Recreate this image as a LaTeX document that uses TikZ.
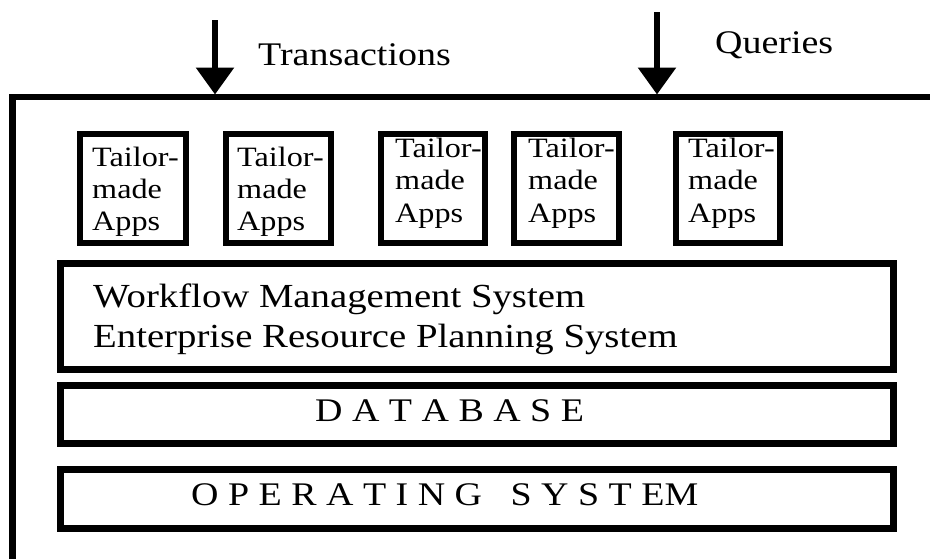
\documentclass[tikz,border=0pt]{standalone}
\usepackage{fontspec}
\setmainfont{Liberation Serif}[FakeStretch=1.15]
\usetikzlibrary{arrows.meta}
\begin{document}
\begin{tikzpicture}[x=1pt,y=-1pt,
  appbox/.style={draw,line width=6pt,inner sep=0pt,outer sep=0pt,minimum height=109pt},
  layerbox/.style={draw,line width=7pt,inner sep=0pt,outer sep=0pt,minimum width=833pt},
  apptext/.style={anchor=base west,inner sep=0pt,font=\fontsize{28}{32}\selectfont},
  bigtext/.style={anchor=base west,inner sep=0pt,font=\fontsize{33}{40}\selectfont},
  wftext/.style={anchor=base west,inner sep=0pt,font=\fontsize{33.7}{40}\selectfont},
  frameline/.style={line width=6.5pt},
  flow/.style={line width=6pt,-{Triangle[length=27pt,width=37pt]}}]
\useasboundingbox (0,0) rectangle (930,558);
% outer frame
\coordinate (fb) at (12.5,562);
\coordinate (fc) at (12.5,97);
\coordinate (fr) at (934,97);
\draw[frameline] (fb) -- (fc) -- (fr);
% input arrows
\coordinate (t0) at (215,20);
\coordinate (t1) at (215,94.5);
\coordinate (q0) at (657,12);
\coordinate (q1) at (657,94.5);
\draw[flow] (t0) -- (t1);
\draw[flow] (q0) -- (q1);
\node[bigtext] (trans) at (258,65) {Transactions};
\node[bigtext] (quer) at (715,53) {Queries};
% application boxes
\node[appbox,minimum width=106pt] (a1) at (133,188.5) {};
\node[appbox,minimum width=105pt] (a2) at (278.5,188.5) {};
\node[appbox,minimum width=104pt] (a3) at (433,188.5) {};
\node[appbox,minimum width=105pt] (a4) at (566.5,188.5) {};
\node[appbox,minimum width=104pt] (a5) at (728,188.5) {};
\node[apptext] (a1l1) at (92,166) {Tailor-};
\node[apptext] (a1l2) at (92,198) {made};
\node[apptext] (a1l3) at (92,230) {Apps};
\node[apptext] (a2l1) at (237,166) {Tailor-};
\node[apptext] (a2l2) at (237,198) {made};
\node[apptext] (a2l3) at (237,230) {Apps};
\node[apptext] (a3l1) at (395,157) {Tailor-};
\node[apptext] (a3l2) at (395,189.5) {made};
\node[apptext] (a3l3) at (395,222) {Apps};
\node[apptext] (a4l1) at (528,157) {Tailor-};
\node[apptext] (a4l2) at (528,189.5) {made};
\node[apptext] (a4l3) at (528,222) {Apps};
\node[apptext] (a5l1) at (688,157) {Tailor-};
\node[apptext] (a5l2) at (688,189.5) {made};
\node[apptext] (a5l3) at (688,222) {Apps};
% layers
\node[layerbox,minimum height=106pt] (wf) at (477,316.5) {};
\node[layerbox,minimum height=58pt] (db) at (477,414.5) {};
\node[layerbox,minimum height=59pt] (os) at (477,499) {};
\node[wftext] (wf1) at (93,307) {Workflow Management System};
\node[wftext] (wf2) at (93,347) {Enterprise Resource Planning System};
\node[bigtext] (dbt) at (315,421) {D A T A B A S E};
\node[bigtext] (ost) at (191,505) {O P E R A T I N G~~~S Y S T EM};
\end{tikzpicture}
\end{document}
